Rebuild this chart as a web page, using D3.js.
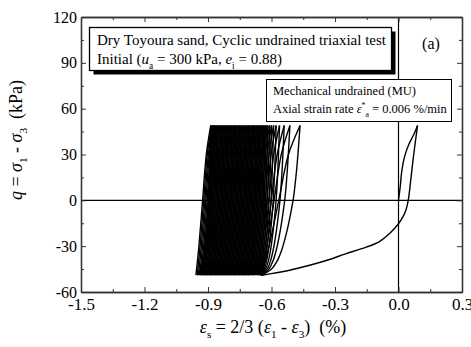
<!DOCTYPE html>
<html>
<head>
	<title>Cyclic undrained triaxial test</title>
	<script src="https://cdnjs.cloudflare.com/ajax/libs/d3/7.8.5/d3.min.js"></script>
	<style>
		body { margin: 0; background: #fff; }
		svg { display: block; font-family: "Liberation Serif", "Times New Roman", serif; }
		text { white-space: pre; }
		.axis text { font-size: 17px; fill: #000; }
		.yaxis text { font-size: 16px; }
		.axis line, .axis path { stroke: #333; }
	</style>
</head>
<body>
	<svg id="chart" width="471" height="347"></svg>
	<script>
		// axes
		const xDomain = [-1.5, 0.3];
		const yDomain = [-60, 120];
		const xTicks = [-1.5, -1.2, -0.9, -0.6, -0.3, 0.0, 0.3];
		const xMinor = [-1.35, -1.05, -0.75, -0.45, -0.15, 0.15];
		const yTicks = [-60, -30, 0, 30, 60, 90, 120];
		const yMinor = [-45, -15, 15, 45, 75, 105];

		// first loading from zero and the first unloading
		const firstLoadX = [0, 0.008, 0.016, 0.028, 0.05, 0.074, 0.09];
		const firstLoadQ = [0, 8.7, 19.6, 28.3, 37, 43.6, 49];
		const firstUnloadX = [0.09, 0.07, 0.052, 0.046, 0.036, 0.02, 0, -0.043, -0.09, -0.17, -0.25, -0.33, -0.42, -0.52, -0.6, -0.647];
		const firstUnloadQ = [49, 28, 6, 0, -6, -11, -15.3, -21.8, -27, -31.5, -35, -38.9, -42.5, -45.9, -48, -49];

		// cyclic part: strain at each peak (q = +49) and each trough (q = -49)
		const cyclePeaks = [
			-0.465, -0.513, -0.540, -0.562, -0.578, -0.590, -0.600, -0.609, -0.617, -0.624,
			-0.630, -0.636, -0.642, -0.648, -0.654, -0.660, -0.666, -0.672, -0.678, -0.684,
			-0.690, -0.696, -0.702, -0.708, -0.714, -0.720, -0.726, -0.732, -0.738, -0.744,
			-0.750, -0.756, -0.762, -0.768, -0.774, -0.780, -0.786, -0.792, -0.798, -0.804,
			-0.810, -0.816, -0.822, -0.828, -0.834, -0.840, -0.846, -0.852, -0.858, -0.864,
			-0.869, -0.874, -0.878, -0.883, -0.887
		];
		const cycleBottoms = [
			-0.647, -0.648, -0.649, -0.651, -0.654, -0.658, -0.663, -0.669, -0.675, -0.681,
			-0.687, -0.693, -0.699, -0.705, -0.711, -0.717, -0.723, -0.729, -0.735, -0.741,
			-0.747, -0.753, -0.759, -0.765, -0.771, -0.777, -0.783, -0.789, -0.795, -0.801,
			-0.807, -0.813, -0.819, -0.825, -0.831, -0.837, -0.843, -0.849, -0.855, -0.861,
			-0.867, -0.873, -0.879, -0.885, -0.891, -0.897, -0.903, -0.909, -0.915, -0.921,
			-0.927, -0.933, -0.939, -0.945, -0.951, -0.957
		];
		// shape of one loop: q levels and where the branch sits between trough and peak
		const loadQ = [-49, -45, -40, -32, -20, -8, 2, 20, 49];
		const loadFrac = [0, 0.26, 0.40, 0.53, 0.66, 0.76, 0.83, 0.91, 1];
		const unloadQ = [49, 30, 0, -30, -49];
		const unloadFrac = [0, 0.3, 0.55, 0.8, 1];

		const svg = d3.select("#chart");
		const pLeft = 81, pRight = 462, pTop = 17, pBottom = 292;

		const x = d3.scaleLinear().domain(xDomain).range([pLeft, pRight]);
		const y = d3.scaleLinear().domain(yDomain).range([pBottom, pTop]);

		const line = d3.line()
			.x(d => x(d[0]))
			.y(d => y(d[1]))
			.curve(d3.curveCatmullRom.alpha(0.5));

		// zero lines
		svg.append("line")
			.attr("x1", pLeft).attr("x2", pRight)
			.attr("y1", y(0)).attr("y2", y(0))
			.attr("stroke", "#000").attr("stroke-width", 1.2);
		svg.append("line")
			.attr("x1", x(0)).attr("x2", x(0))
			.attr("y1", pTop).attr("y2", pBottom)
			.attr("stroke", "#000").attr("stroke-width", 1.2);

		// build the branches
		const branches = [];
		branches.push(firstLoadX.map((v, i) => [v, firstLoadQ[i]]));
		branches.push(firstUnloadX.map((v, i) => [v, firstUnloadQ[i]]));
		cyclePeaks.forEach((p, k) => {
			const b0 = cycleBottoms[k], b1 = cycleBottoms[k + 1];
			branches.push(loadQ.map((q, i) => [b0 + loadFrac[i] * (p - b0), q]));
			branches.push(unloadQ.map((q, i) => [p + unloadFrac[i] * (b1 - p), q]));
		});

		svg.append("g")
			.selectAll("path")
			.data(branches)
			.join("path")
				.attr("d", line)
				.attr("fill", "none")
				.attr("stroke", "#000")
				.attr("stroke-width", 1.4);

		// axes, ticks pointing inward
		const fmtX = d => d.toFixed(1);
		const fmtY = d => String(d);

		svg.append("g").attr("class", "axis")
			.attr("transform", `translate(0,${pBottom})`)
			.call(d3.axisBottom(x).tickValues(xTicks).tickFormat(fmtX).tickSizeInner(-5).tickSizeOuter(0).tickPadding(6));
		svg.append("g").attr("class", "axis")
			.attr("transform", `translate(0,${pBottom})`)
			.call(d3.axisBottom(x).tickValues(xMinor).tickFormat("").tickSizeInner(-3).tickSizeOuter(0));
		svg.append("g").attr("class", "axis")
			.attr("transform", `translate(0,${pTop})`)
			.call(d3.axisTop(x).tickValues(xTicks).tickFormat("").tickSizeInner(-5).tickSizeOuter(0));
		svg.append("g").attr("class", "axis")
			.attr("transform", `translate(0,${pTop})`)
			.call(d3.axisTop(x).tickValues(xMinor).tickFormat("").tickSizeInner(-3).tickSizeOuter(0));

		svg.append("g").attr("class", "axis yaxis")
			.attr("transform", `translate(${pLeft},0)`)
			.call(d3.axisLeft(y).tickValues(yTicks).tickFormat(fmtY).tickSizeInner(-5).tickSizeOuter(0).tickPadding(4));
		svg.append("g").attr("class", "axis")
			.attr("transform", `translate(${pLeft},0)`)
			.call(d3.axisLeft(y).tickValues(yMinor).tickFormat("").tickSizeInner(-3).tickSizeOuter(0));
		svg.append("g").attr("class", "axis")
			.attr("transform", `translate(${pRight},0)`)
			.call(d3.axisRight(y).tickValues(yTicks).tickFormat("").tickSizeInner(-5).tickSizeOuter(0));
		svg.append("g").attr("class", "axis")
			.attr("transform", `translate(${pRight},0)`)
			.call(d3.axisRight(y).tickValues(yMinor).tickFormat("").tickSizeInner(-3).tickSizeOuter(0));

		svg.selectAll(".axis").attr("font-family", null).attr("font-size", null);
		svg.selectAll(".axis path").attr("stroke-width", 1.3);

		// text with italics and sub/superscripts: parts = [text, italic, offset(em), small]
		function rich(sel, parts, size) {
			let cur = 0;
			parts.forEach(p => {
				const off = (p[2] || 0) * size;
				const t = sel.append("tspan").text(p[0]).attr("dy", off - cur);
				cur = off;
				if (p[1]) t.style("font-style", "italic");
				if (p[3]) t.style("font-size", (size * 0.62) + "px");
			});
		}

		// axis titles
		const xt = svg.append("text")
			.attr("x", 273).attr("y", 333)
			.attr("text-anchor", "middle")
			.style("font-size", "18px");
		rich(xt, [["ε", true], ["s", false, 0.3, true], [" = 2/3 (", false], ["ε", true], ["1", false, 0.3, true],
			[" - ", false], ["ε", true], ["3", false, 0.3, true], [")  (%)", false]], 18);

		const yt = svg.append("text")
			.attr("transform", "translate(22,140) rotate(-90)")
			.attr("text-anchor", "middle")
			.style("font-size", "18px");
		rich(yt, [["q", true], [" = ", false], ["σ", true], ["1", false, 0.3, true],
			[" - ", false], ["σ", true], ["3", false, 0.3, true], ["  (kPa)", false]], 18);

		// first legend box with shadow
		svg.append("rect")
			.attr("x", 93.5).attr("y", 31.5).attr("width", 302).attr("height", 43)
			.attr("fill", "#000");
		svg.append("rect")
			.attr("x", 89.5).attr("y", 27.5).attr("width", 302).attr("height", 43)
			.attr("fill", "#fff").attr("stroke", "#000").attr("stroke-width", 1.3);
		svg.append("text")
			.attr("x", 97).attr("y", 45)
			.style("font-size", "15px")
			.text("Dry Toyoura sand, Cyclic undrained triaxial test");
		const l2 = svg.append("text")
			.attr("x", 97).attr("y", 64)
			.style("font-size", "15px");
		rich(l2, [["Initial (", false], ["u", true], ["a", false, 0.3, true], [" = 300 kPa, ", false],
			["e", true], ["i", false, 0.3, true], [" = 0.88)", false]], 15);

		svg.append("text")
			.attr("x", 431).attr("y", 49)
			.attr("text-anchor", "middle")
			.style("font-size", "16px")
			.text("(a)");

		// second legend box
		svg.append("rect")
			.attr("x", 266.5).attr("y", 79.5).attr("width", 185).attr("height", 42)
			.attr("fill", "#fff").attr("stroke", "#000").attr("stroke-width", 1);
		svg.append("text")
			.attr("x", 273).attr("y", 95)
			.style("font-size", "12.5px")
			.text("Mechanical undrained (MU)");
		const l4 = svg.append("text")
			.attr("x", 273).attr("y", 113)
			.style("font-size", "12.5px");
		rich(l4, [["Axial strain rate ", false], ["ε", true], ["*", false, -0.4, true], ["a", false, 0.3, true],
			[" = 0.006 %/min", false]], 12.5);
	</script>
</body>
</html>
